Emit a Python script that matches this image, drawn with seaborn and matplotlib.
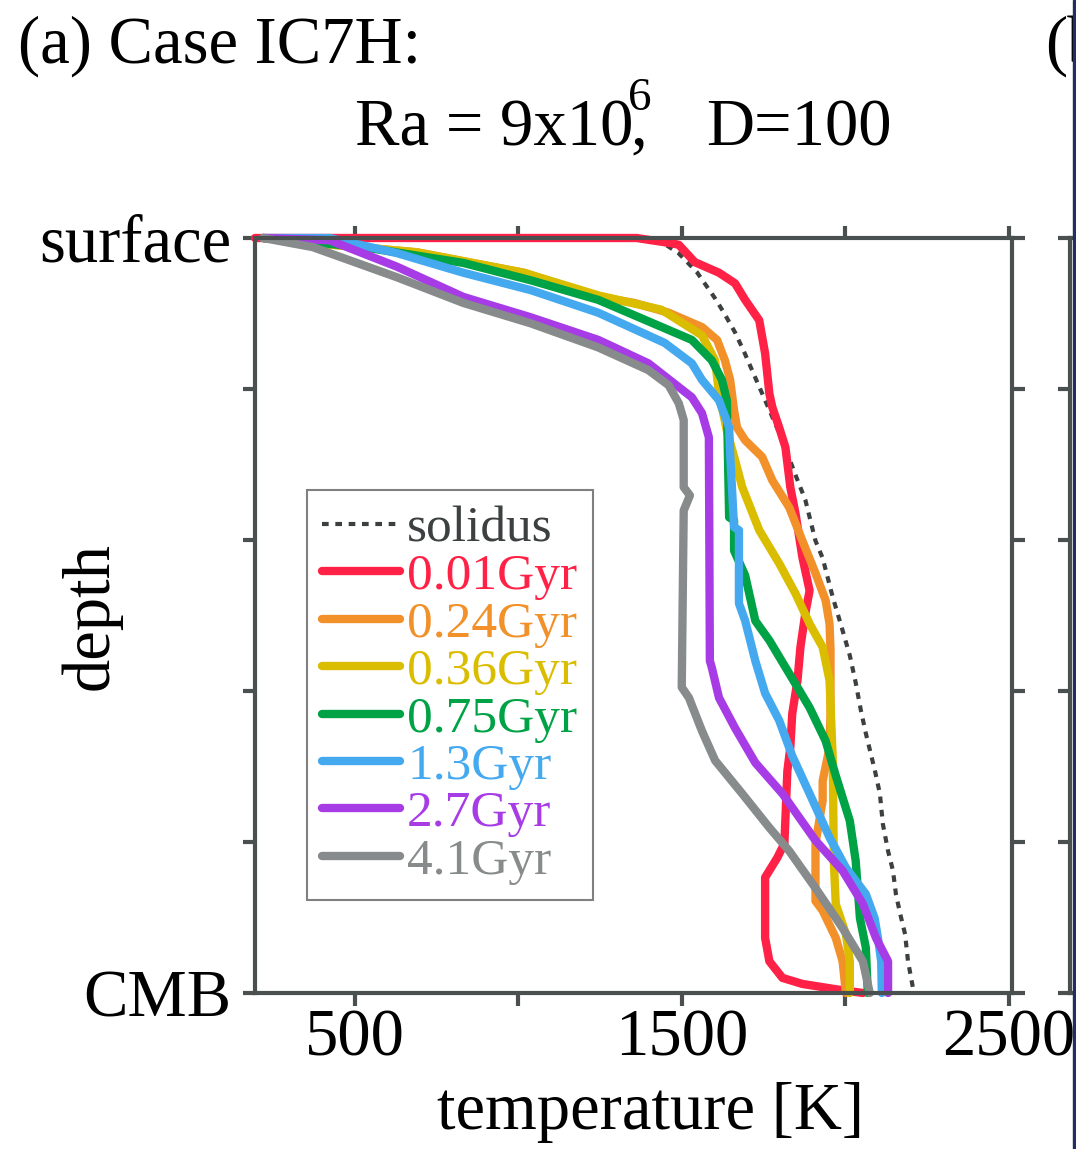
import pandas as pd
import matplotlib
matplotlib.use("Agg")
import matplotlib.pyplot as plt
from matplotlib.patches import Rectangle
import seaborn as sns

# legend labels and colours of the temperature profiles
ages = ["0.01Gyr", "0.24Gyr", "0.36Gyr", "0.75Gyr", "1.3Gyr", "2.7Gyr", "4.1Gyr"]
colors = ["#ff2146", "#f2902a", "#dbbd00", "#00a246", "#44a9ef", "#a73ce7", "#878b8b"]

# depth: 0 = surface, 1 = CMB ; temperature in K
d_001 = [0, 0.0, 0.007, 0.009, 0.032, 0.046, 0.060, 0.082, 0.109, 0.153, 0.206, 0.224, 0.251,
         0.277, 0.330, 0.365, 0.423, 0.467, 0.497, 0.542, 0.586, 0.630, 0.675, 0.706, 0.802,
         0.821, 0.847, 0.927, 0.958, 0.980, 0.988, 0.995, 1.0]
T_001 = [195, 1362, 1469, 1491, 1540, 1614, 1663, 1694, 1737, 1755, 1768, 1777, 1798,
         1817, 1832, 1848, 1869, 1891, 1878, 1863, 1854, 1838, 1832, 1823, 1814,
         1792, 1755, 1755, 1768, 1808, 1869, 1971, 2054]

d_024 = [0, 0.005, 0.019, 0.046, 0.078, 0.086, 0.099, 0.118, 0.135, 0.162, 0.188, 0.228, 0.251,
         0.268, 0.290, 0.321, 0.357, 0.401, 0.444, 0.480, 0.511, 0.546, 0.630, 0.675, 0.719,
         0.745, 0.802, 0.878, 0.891, 0.927, 0.958, 1.0]
T_024 = [220, 330, 691, 1017, 1245, 1355, 1460, 1562, 1608, 1632, 1648, 1660, 1669,
         1694, 1746, 1777, 1829, 1869, 1909, 1940, 1952, 1955, 1955, 1952, 1931,
         1931, 1909, 1909, 1931, 1971, 1992, 2002]

d_036 = [0, 0.005, 0.019, 0.046, 0.076, 0.095, 0.129, 0.162, 0.206, 0.255, 0.294, 0.330, 0.387,
         0.431, 0.471, 0.511, 0.542, 0.586, 0.692, 0.825, 0.882, 0.922, 0.958, 1.0]
T_036 = [220, 330, 691, 1017, 1245, 1438, 1562, 1602, 1614, 1638, 1663, 1685, 1737,
         1798, 1848, 1891, 1931, 1952, 1962, 1965, 1971, 2002, 2014, 2014]

d_075 = [0, 0.004, 0.012, 0.033, 0.056, 0.082, 0.135, 0.162, 0.188, 0.215, 0.370, 0.374, 0.414,
         0.447, 0.507, 0.533, 0.577, 0.622, 0.666, 0.712, 0.772, 0.825, 0.901, 0.940, 1.0]
T_075 = [220, 330, 525, 832, 1038, 1245, 1531, 1592, 1623, 1638, 1645, 1660, 1660,
         1694, 1725, 1768, 1829, 1891, 1940, 1971, 2014, 2032, 2045, 2063, 2069]

d_13 = [0, 0.0, 0.020, 0.046, 0.069, 0.099, 0.139, 0.166, 0.188, 0.215, 0.251, 0.285, 0.383,
        0.387, 0.484, 0.507, 0.560, 0.603, 0.639, 0.686, 0.736, 0.794, 0.834, 0.869, 0.901,
        0.927, 0.958, 1.0]
T_13 = [220, 423, 629, 832, 1038, 1245, 1448, 1531, 1562, 1614, 1645, 1648, 1660,
        1675, 1675, 1694, 1725, 1755, 1798, 1838, 1891, 1952, 2002, 2063, 2090,
        2100, 2110, 2112]

d_27 = [0, 0.003, 0.038, 0.078, 0.105, 0.135, 0.166, 0.211, 0.232, 0.264, 0.560, 0.569, 0.609,
        0.649, 0.695, 0.736, 0.798, 0.838, 0.882, 0.927, 0.958, 1.0]
T_27 = [220, 423, 629, 832, 1038, 1245, 1398, 1531, 1562, 1583, 1586, 1592, 1614,
        1663, 1725, 1808, 1909, 1992, 2054, 2094, 2131, 2131]

d_41 = [0, 0.012, 0.052, 0.086, 0.113, 0.145, 0.175, 0.195, 0.219, 0.241, 0.330, 0.341, 0.361,
        0.595, 0.609, 0.653, 0.692, 0.736, 0.781, 0.812, 0.861, 0.914, 0.958, 1.0]
T_41 = [220, 371, 629, 832, 1038, 1245, 1398, 1460, 1491, 1506, 1506, 1525, 1506,
        1500, 1522, 1562, 1602, 1685, 1768, 1829, 1909, 1992, 2054, 2075]

d_sol = [0, 0.02, 0.045, 0.080, 0.099, 0.125, 0.151, 0.191, 0.268, 0.314, 0.347, 0.401, 0.424,
         0.476, 0.511, 0.553, 0.589, 0.626, 0.656, 0.706, 0.736, 0.776, 0.812, 0.838, 0.869,
         0.895, 0.922, 0.958, 1.0]
T_sol = [1420, 1490, 1546, 1602, 1629, 1663, 1691, 1731, 1808, 1848, 1878, 1909, 1931,
         1962, 1986, 2014, 2032, 2048, 2063, 2091, 2106, 2115, 2131, 2146, 2155,
         2168, 2183, 2192, 2210]

xticks = [500, 1000, 1500, 2000, 2500]
xticklabels = ["500", "", "1500", "", "2500"]
yticks = [0, 0.2, 0.4, 0.6, 0.8, 1.0]
yticklabels = ["surface", "", "", "", "", "CMB"]

depths = [d_001, d_024, d_036, d_075, d_13, d_27, d_41]
temps = [T_001, T_024, T_036, T_075, T_13, T_27, T_41]
df = pd.concat([pd.DataFrame({"temperature": T, "depth": d, "age": a})
                for a, T, d in zip(ages, temps, depths)], ignore_index=True)

sns.set_style("ticks")
plt.rcParams["font.family"] = ["Liberation Serif", "DejaVu Serif"]
plt.rcParams["text.color"] = "black"
plt.rcParams["axes.labelcolor"] = "black"
spine_c = "#4a4f4f"
sol_c = "#3c4040"

fig = plt.figure(figsize=(10.76, 11.49), dpi=100)
ax = fig.add_axes([255 / 1076, 156 / 1149, 757 / 1076, 755 / 1149])

sns.lineplot(x=T_sol, y=d_sol, color=sol_c, lw=3, linestyle=(0, (1.6, 1.6)),
             sort=False, estimator=None, orient="y", ax=ax, clip_on=False)
sns.lineplot(data=df, x="temperature", y="depth", hue="age", hue_order=ages,
             palette=colors, lw=6, sort=False, estimator=None, orient="y",
             legend=False, ax=ax, clip_on=False)

ax.set_xlim(195, 2510)
ax.set_ylim(1, 0)
ax.set_xticks(xticks, xticklabels)
ax.set_yticks(yticks, yticklabels)
ax.tick_params(direction="out", length=9, width=3, color=spine_c, top=True, right=True,
               labelsize=48, labelcolor="black")
ax.tick_params(axis="x", pad=2)
ax.tick_params(axis="y", pad=8)
for s in ax.spines.values():
    s.set_linewidth(3)
    s.set_color(spine_c)

ax.set_xlabel("temperature [K]", fontsize=48)
ax.set_ylabel("depth", fontsize=48)
ax.xaxis.set_label_coords(0.522, -0.118)
ax.yaxis.set_label_coords(-0.176, 0.5)

handles = ax.lines[:8]
labels = ["solidus"] + ages
leg = ax.legend(handles, labels, loc="upper left", bbox_to_anchor=(0.0687, 0.666),
                borderaxespad=0, fontsize=37, labelspacing=0.01, handlelength=1.5,
                handletextpad=0.15, borderpad=0.3, frameon=True, fancybox=False,
                edgecolor="#808080", framealpha=1)
leg.get_frame().set_linewidth(1.5)
for t, c in zip(leg.get_texts(), [sol_c] + colors):
    t.set_color(c)

# titles
fig.text(18 / 1076, 1 - 63 / 1149, "(a) Case IC7H:", fontsize=48, va="baseline")
fig.text(355 / 1076, 1 - 145 / 1149, "Ra = 9x10", fontsize=48, va="baseline")
fig.text(630 / 1076, 1 - 145 / 1149, ",", fontsize=48, va="baseline")
fig.text(628 / 1076, 1 - 110 / 1149, "6", fontsize=34, va="baseline")
fig.text(706 / 1076, 1 - 145 / 1149, "D=100", fontsize=48, va="baseline")

# edge of the neighbouring panel (b)
fig.text(1045 / 1076, 1 - 63 / 1149, "(b)", fontsize=48, va="baseline")
axb = fig.add_axes([1070 / 1076, 156 / 1149, 0.7, 755 / 1149])
axb.set_xlim(0, 1)
axb.set_ylim(1, 0)
axb.set_xticks([])
axb.set_yticks(yticks, [""] * len(yticks))
axb.tick_params(direction="out", length=9, width=3, color=spine_c)
for s in axb.spines.values():
    s.set_linewidth(3)
    s.set_color(spine_c)
fig.patches.append(Rectangle((1073 / 1076, 0), 3 / 1076, 1, transform=fig.transFigure,
                             color="#1f2f5f", zorder=5))

fig.savefig("out.png", dpi=100)
